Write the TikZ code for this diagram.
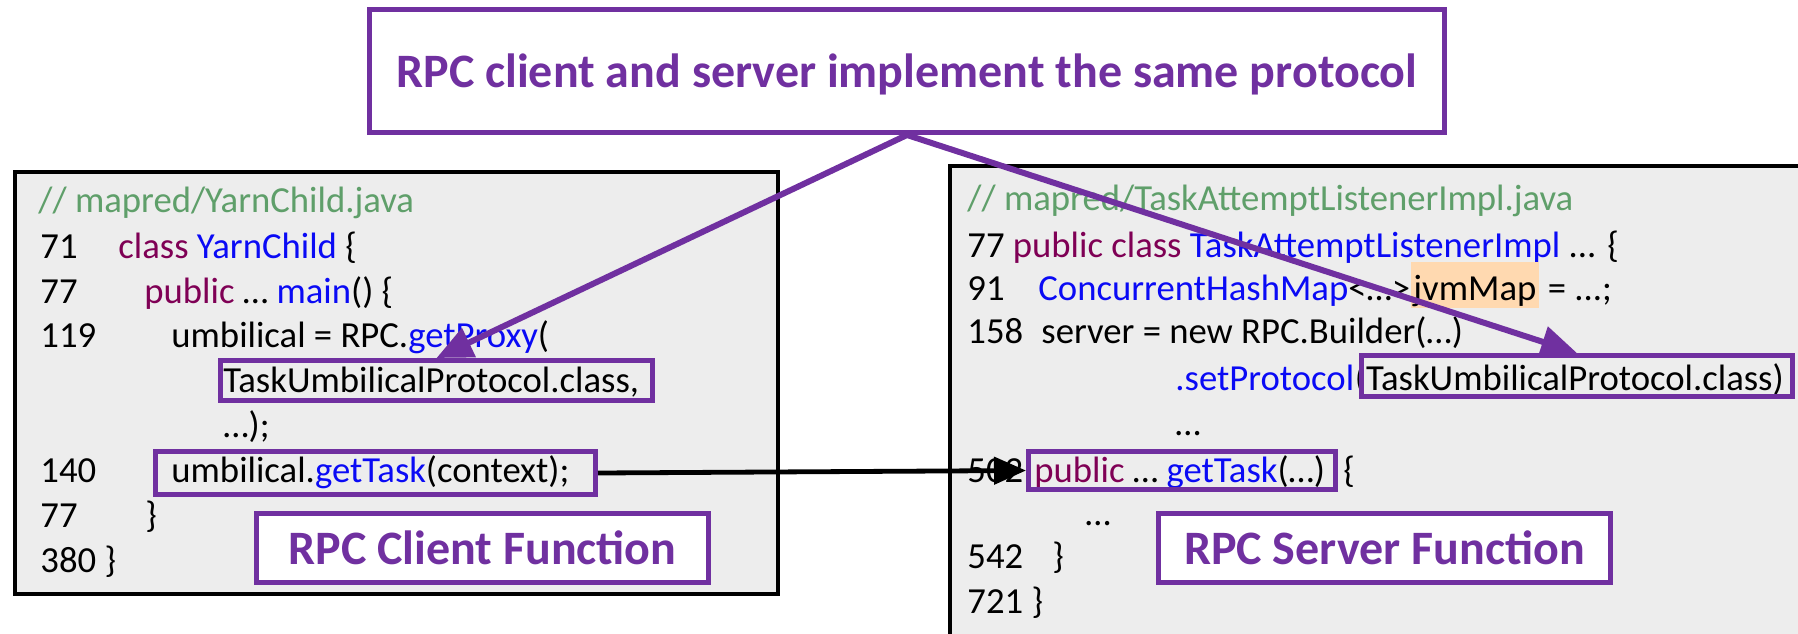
\documentclass[tikz,border=0pt]{standalone}
\usepackage{fontspec}
\setmainfont{Carlito}
\usetikzlibrary{arrows.meta,fit}
\definecolor{accent}{HTML}{7030A0}
\definecolor{kwcol}{HTML}{7F0055}
\definecolor{typcol}{HTML}{0A0AF5}
\definecolor{cmtcol}{HTML}{5F9F6A}
\definecolor{panel}{HTML}{EDEDED}
\definecolor{hilite}{HTML}{FFD9B0}
\newcommand{\kwd}[1]{\textcolor{kwcol}{#1}}
\newcommand{\typ}[1]{\textcolor{typcol}{#1}}

\begin{document}
\begin{tikzpicture}[x=0.5pt,y=-0.5pt,
  code/.style={anchor=base west, inner sep=0pt, font=\fontsize{18.35pt}{22pt}\selectfont},
  cmt/.style={code, text=cmtcol},
  panelbox/.style={draw=black, line width=2.2pt, fill=panel, inner sep=0pt},
  markbox/.style={draw=accent, line width=2.5pt, inner sep=0pt},
  labelbox/.style={draw=accent, line width=2.5pt, fill=white, text=accent,
    font=\bfseries\fontsize{24pt}{28pt}\selectfont, inner sep=0pt, text depth=0pt},
  protoarrow/.style={draw=accent, line width=3pt, -{Triangle[length=18pt,width=15.5pt]}},
  callarrow/.style={draw=black, line width=2.4pt, -{Triangle[length=16pt,width=13.5pt]}}
]
\useasboundingbox (0,0) rectangle (1798,633);
\clip (0,0) rectangle (1798,633);

% code panels
\node[panelbox, fit={(15,172) (778,594)}] (clientpanel) {};
\node[panelbox, fit={(950,166) (1840,680)}] (serverpanel) {};

% ---- client side: mapred/YarnChild.java
\node[cmt] (c0) at (38,212) {// mapred/YarnChild.java};
\node[code] (c71n) at (40,258) {71};
\node[code] (c71) at (118,258) {\kwd{class} \typ{YarnChild} \{};
\node[code] (c77n) at (40,303) {77};
\node[code] (c77) at (144,303) {\kwd{public} … \typ{main}() \{};
\node[code] (c119n) at (40,347) {119};
\node[code] (c119) at (171,347) {umbilical = RPC.\typ{getProxy}(};
\node[code] (c120) at (223,392) {TaskUmbilicalProtocol.class,};
\node[code] (c121) at (223,437) {…);};
\node[code] (c140n) at (40,482) {140};
\node[code] (c140) at (171,482) {umbilical.\typ{getTask}(context);};
\node[code] (c77bn) at (40,527) {77};
\node[code] (c77b) at (145,527) {\}};
\node[code] (c380) at (40,572) {380 \}};

% ---- server side: mapred/TaskAttemptListenerImpl.java
\node[cmt] (s0) at (967,210) {// mapred/TaskAttemptListenerImpl.java};
\node[code] (s77) at (967,257) {77 \kwd{public class} \typ{TaskAttemptListenerImpl} ... \{};
\node[code] (s91n) at (967,300) {91};
\node[code] (s91a) at (1038,300) {\typ{ConcurrentHashMap}<…>\ };
\node[code, fill=hilite, inner xsep=1.2pt, text height=19pt, text depth=4pt] (jvm) at (s91a.base east) {jvmMap};
\node[code] (s91b) at (jvm.base east) {\ = ...;};
\node[code] (s158n) at (967,343) {158};
\node[code] (s158) at (1041,343) {server = new RPC.Builder(…)};
\node[code] (s159) at (1175,390) {\typ{.setProtocol}};
\node[code] (s159b) at (s159.base east) {(TaskUmbilicalProtocol.class)};
\node[code] (s160) at (1175,435) {…};
\node[code] (s502n) at (967,482) {502};
\node[code] (s502) at (1034,482) {\kwd{public} … \typ{getTask}(…)};
\node[code] (s502b) at (1343,482) {\{};
\node[code] (s503) at (1085,525) {…};
\node[code] (s542n) at (967,568) {542};
\node[code] (s542) at (1052,568) {\}};
\node[code] (s721) at (967,613) {721 \}};

% highlighted fragments
\node[markbox, fit={(220.5,360.5) (652.5,400.5)}] (protoC) {};
\node[markbox, fit={(155.5,451.5) (595.5,494.5)}] (callC) {};
\node[markbox, fit={(1361.5,355.5) (1792.5,396.5)}] (protoS) {};
\node[markbox, fit={(1028.5,451.5) (1335,489.5)}] (implS) {};

% labels
\node[labelbox, minimum width=537.5pt, minimum height=61.5pt] (topic) at (907,71)
  {RPC client and server implement the same protocol};
\node[labelbox, minimum width=226pt, minimum height=34.5pt] (clientlbl) at (482.5,548)
  {RPC Client Function};
\node[labelbox, minimum width=226pt, minimum height=34.5pt] (serverlbl) at (1384.5,548)
  {RPC Server Function};

% connectors
\draw[protoarrow] (topic.south) -- (protoC.north);
\draw[protoarrow] (topic.south) -- (protoS.north);
\draw[callarrow] (callC.east) -- (implS.west);
\end{tikzpicture}
\end{document}
